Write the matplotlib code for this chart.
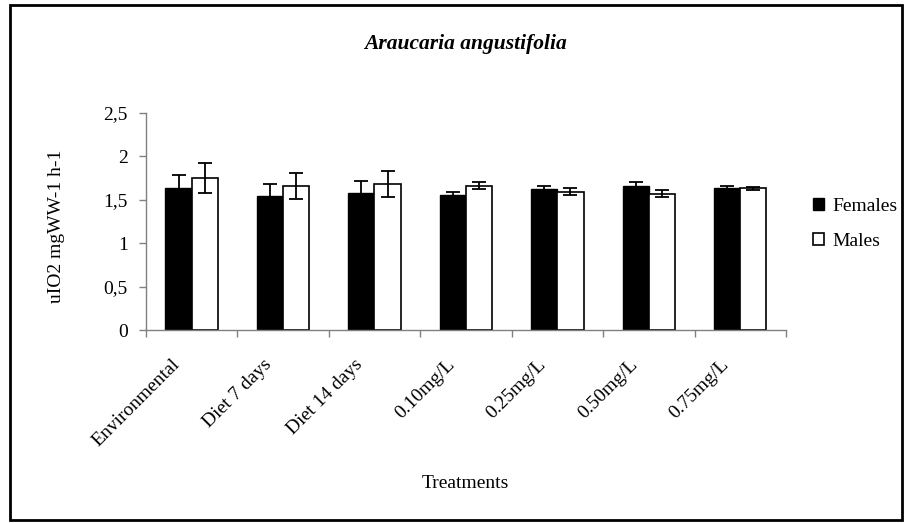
import matplotlib
matplotlib.use("Agg")
import matplotlib.pyplot as plt
import matplotlib.transforms as mtransforms
from matplotlib.patches import Rectangle
import numpy as np

# data
treatments = ["Environmental", "Diet 7 days", "Diet 14 days", "0.10mg/L",
              "0.25mg/L", "0.50mg/L", "0.75mg/L"]
females = [1.64, 1.54, 1.58, 1.55, 1.62, 1.66, 1.64]
females_err = [0.15, 0.14, 0.14, 0.04, 0.04, 0.04, 0.02]
males = [1.75, 1.66, 1.68, 1.66, 1.59, 1.57, 1.63]
males_err = [0.17, 0.15, 0.15, 0.04, 0.04, 0.04, 0.02]
yticks = [0, 0.5, 1, 1.5, 2, 2.5]
ytick_labels = ["0", "0,5", "1", "1,5", "2", "2,5"]

plt.rcParams["font.family"] = ["Liberation Serif", "DejaVu Serif"]

fig = plt.figure(figsize=(9.06, 5.23), dpi=100)
ax = fig.add_axes([0.161, 0.369, 0.7065, 0.415])

x = np.arange(len(treatments))
w = 0.286
err_kw = dict(ecolor="black", elinewidth=1.3, capsize=5, capthick=1.3)
ax.bar(x - w / 2, females, w, yerr=females_err, color="black",
       edgecolor="black", linewidth=1.0, label="Females", error_kw=err_kw)
ax.bar(x + w / 2, males, w, yerr=males_err, color="white",
       edgecolor="black", linewidth=1.2, label="Males", error_kw=err_kw)

ax.set_xlim(-0.5, len(treatments) - 0.5)
ax.set_ylim(0, 2.5)
ax.set_yticks(yticks)
ax.set_yticklabels(ytick_labels, fontsize=14)

# tick marks sit between groups, labels at group centres
ax.set_xticks(np.arange(len(treatments) + 1) - 0.5)
ax.set_xticklabels([])
ax.set_xticks(x, minor=True)
ax.set_xticklabels(treatments, minor=True, rotation=45, ha="right",
                   va="center", rotation_mode="anchor", fontsize=14)
ax.tick_params(axis="x", which="minor", length=0, pad=0)
ax.tick_params(axis="both", which="major", direction="out", length=5,
               color="#808080", width=1)
ax.tick_params(axis="y", pad=8)

# shift the slanted labels down-left like the original
shift = mtransforms.ScaledTranslation(-14 / 100, -32 / 100, fig.dpi_scale_trans)
for lab in ax.get_xticklabels(minor=True):
    lab.set_transform(lab.get_transform() + shift)

for s in ["top", "right"]:
    ax.spines[s].set_visible(False)
for s in ["left", "bottom"]:
    ax.spines[s].set_color("#808080")
    ax.spines[s].set_linewidth(1)

fig.text(0.062, 0.567, "uIO2 mgWW-1 h-1", rotation=90, ha="center",
         va="center", fontsize=14)
fig.text(0.514, 0.075, "Treatments", ha="center", va="center", fontsize=14)
fig.text(0.514, 0.915, "Araucaria angustifolia", ha="center", va="center",
         fontsize=15.5, fontstyle="italic", fontweight="bold")

ax.legend(loc="center left", bbox_to_anchor=(0.878, 0.572),
          bbox_transform=fig.transFigure, frameon=False, fontsize=14,
          handlelength=0.55, handleheight=0.55, handletextpad=0.45,
          labelspacing=0.95)

fig.patches.append(Rectangle((0.011, 0.006), 0.985, 0.985, fill=False,
                             edgecolor="black", linewidth=2,
                             transform=fig.transFigure, figure=fig))

fig.savefig("out.png", dpi=100)
